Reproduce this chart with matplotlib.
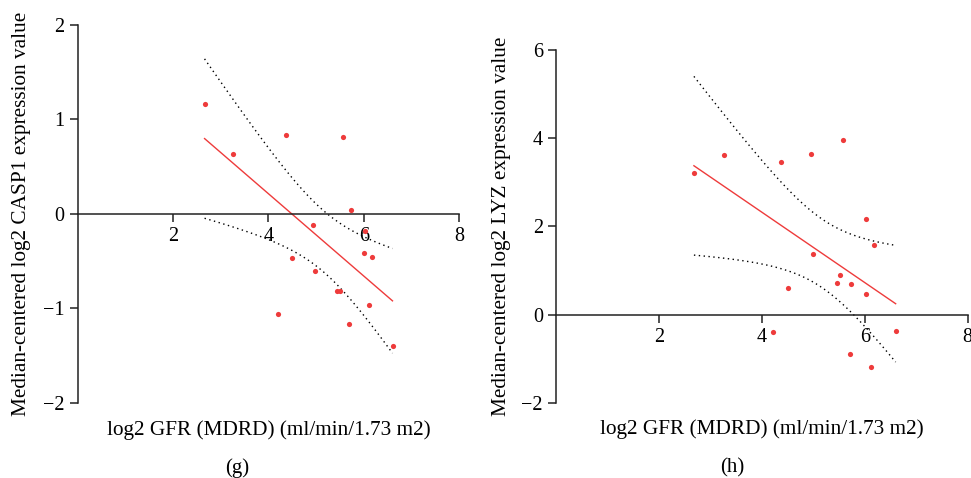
import numpy as np
import matplotlib
matplotlib.use("Agg")
import matplotlib.pyplot as plt

plt.rcParams['font.family'] = ['Liberation Serif', 'DejaVu Serif']

# ---- data ----
gfr_g = [2.66, 3.25, 4.36, 5.56, 5.74, 4.93, 6.02, 6.00, 6.16, 4.49, 4.98, 5.44, 5.50, 6.11, 4.20, 5.69, 6.60]
casp1 = [1.164, 0.638, 0.839, 0.818, 0.039, -0.116, -0.183, -0.413, -0.459, -0.469, -0.607, -0.811, -0.811, -0.963, -1.055, -1.168, -1.400]

gfr_h = [2.68, 3.27, 4.38, 4.95, 5.58, 6.02, 6.17, 4.99, 5.52, 5.46, 5.74, 6.02, 4.51, 4.22, 6.60, 5.71, 6.13]
lyz = [3.22, 3.62, 3.46, 3.64, 3.95, 2.17, 1.57, 1.38, 0.90, 0.72, 0.69, 0.48, 0.60, -0.39, -0.36, -0.88, -1.19]

xticks = [2, 4, 6, 8]
yticks_g = [-2, -1, 0, 1, 2]
yticks_h = [-2, 0, 2, 4, 6]
xlabel = "log2 GFR (MDRD) (ml/min/1.73 m2)"
ylabel_g = "Median-centered log2 CASP1 expression value"
ylabel_h = "Median-centered log2 LYZ expression value"
T_CRIT = 2.131  # t(0.975, df=15)

RED = "#ee3b3b"

fig = plt.figure(figsize=(9.71, 4.78), dpi=100)
ax1 = fig.add_axes([0.080, 0.157, 0.393, 0.791])
ax2 = fig.add_axes([0.5726, 0.157, 0.424, 0.7385])


def fit_band(x, y):
    x = np.asarray(x, float); y = np.asarray(y, float)
    n = len(x)
    b, a = np.polyfit(x, y, 1)
    res = y - (a + b * x)
    s = np.sqrt(np.sum(res ** 2) / (n - 2))
    xm = x.mean(); sxx = np.sum((x - xm) ** 2)
    xs = np.linspace(x.min(), x.max(), 100)
    yf = a + b * xs
    se = s * np.sqrt(1.0 / n + (xs - xm) ** 2 / sxx)
    return xs, yf, yf - T_CRIT * se, yf + T_CRIT * se


def style(ax, ylim, yticks, ylabel, ylab_x):
    ax.set_xlim(0, 8)
    ax.set_ylim(*ylim)
    ax.spines['top'].set_visible(False)
    ax.spines['right'].set_visible(False)
    ax.spines['bottom'].set_position(('data', 0))
    for sp in ('left', 'bottom'):
        ax.spines[sp].set_linewidth(1.1)
        ax.spines[sp].set_color('#222222')
    ax.set_xticks(xticks)
    ax.set_yticks(yticks)
    ax.set_yticklabels([("\u2212%d" % -t) if t < 0 else str(t) for t in yticks])
    ax.tick_params(axis='both', direction='out', length=5.5, width=1.1,
                   color='#222222', labelsize=14.5, pad=4)
    ax.set_xlabel(xlabel, fontsize=15.3, va='top')
    ax.xaxis.set_label_coords(0.5, -0.045)
    ax.set_ylabel(ylabel, fontsize=15.3, va='center')
    ax.yaxis.set_label_coords(ylab_x, 0.5)


for ax, x, y in ((ax1, gfr_g, casp1), (ax2, gfr_h, lyz)):
    xs, yf, lo, hi = fit_band(x, y)
    ax.plot(xs, hi, color='black', lw=1.0, linestyle=(0, (1, 2.5)))
    ax.plot(xs, lo, color='black', lw=1.0, linestyle=(0, (1, 2.5)))
    ax.plot(xs, yf, color=RED, lw=1.0)
    ax.scatter(x, y, s=14, color=RED, zorder=3, linewidths=0)

style(ax1, (-2, 2), yticks_g, ylabel_g, -0.146)
style(ax2, (-2, 6), yticks_h, ylabel_h, -0.132)

fig.text(237 / 971, 1 - 468 / 478, "(g)", ha='center', va='center', fontsize=15)
fig.text(732 / 971, 1 - 468 / 478, "(h)", ha='center', va='center', fontsize=15)

fig.savefig("out.png", dpi=100)
